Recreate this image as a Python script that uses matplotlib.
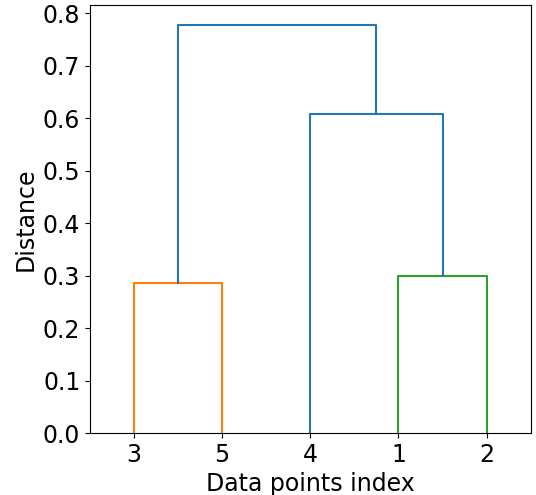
import numpy as np
import matplotlib
matplotlib.use("Agg")
import matplotlib.pyplot as plt

plt.rcParams["font.size"] = 17

# leaves in display order
leaf_labels = ["3", "5", "4", "1", "2"]
# merges: cluster ids 0..4 are leaves, new clusters get 5, 6, ...
merges = [(0, 1), (3, 4), (2, 6), (5, 7)]
heights = [0.286, 0.300, 0.609, 0.777]
colors = ["C1", "C2", "C0", "C0"]

pos = {i: 5 + 10 * i for i in range(len(leaf_labels))}
hgt = {i: 0.0 for i in range(len(leaf_labels))}

fig, ax = plt.subplots(figsize=(5.36, 4.95), dpi=100)
fig.subplots_adjust(left=0.168, right=0.99, top=0.99, bottom=0.125)

for k, ((a, b), h, c) in enumerate(zip(merges, heights, colors)):
    new = len(leaf_labels) + k
    xs = [pos[a], pos[a], pos[b], pos[b]]
    ys = [hgt[a], h, h, hgt[b]]
    ax.plot(xs, ys, color=c, lw=1.5)
    pos[new] = (pos[a] + pos[b]) / 2
    hgt[new] = h

ax.set_xlim(0, 10 * len(leaf_labels))
ax.set_ylim(0, max(heights) * 1.05)
ax.set_xticks([5 + 10 * i for i in range(len(leaf_labels))])
ax.set_xticklabels(leaf_labels)
ax.set_xlabel("Data points index")
ax.set_ylabel("Distance")

fig.savefig("out.png", dpi=100)
